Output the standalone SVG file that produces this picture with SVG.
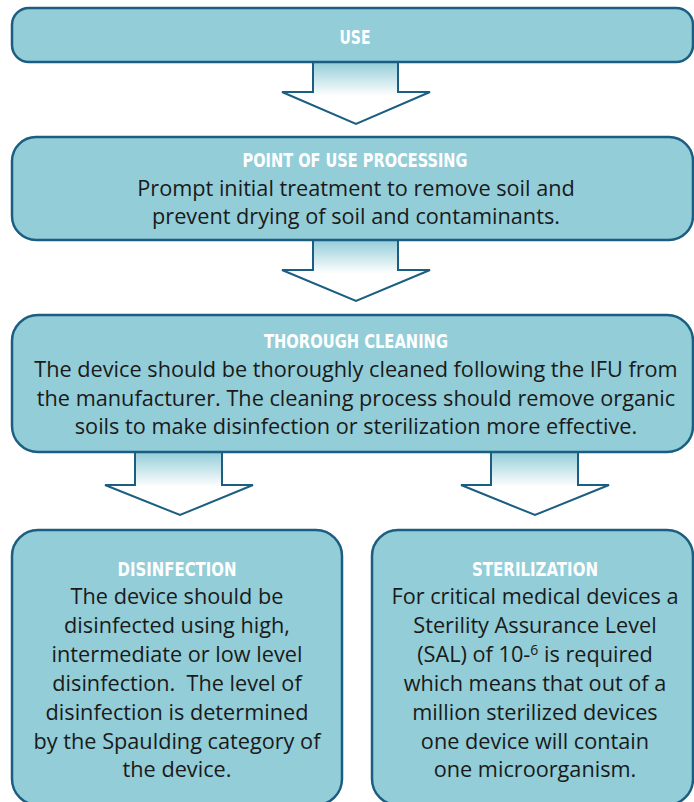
<svg xmlns="http://www.w3.org/2000/svg" width="694" height="802" viewBox="0 0 694 802">
<defs>
<linearGradient id="ag" x1="0" y1="0" x2="0" y2="1">
<stop offset="0" stop-color="#92cdd8"/>
<stop offset="0.55" stop-color="#ffffff"/>
<stop offset="1" stop-color="#ffffff"/>
</linearGradient>
<style>
.box{fill:#92cdd8;stroke:#1b5e82;stroke-width:2.5}
.arr{fill:url(#ag);stroke:#1b5e82;stroke-width:2;stroke-linejoin:miter}
.t{font-family:"DejaVu Sans Condensed","DejaVu Sans",sans-serif;font-weight:bold;font-size:19px;fill:#ffffff;text-anchor:middle}
.b{font-family:"Open Sans","Liberation Sans",sans-serif;font-size:21.7px;fill:#1a1a1a;text-anchor:middle;white-space:pre}
</style>
</defs>
<rect width="694" height="802" fill="#ffffff"/>
<g id="connectors">
<path class="arr" d="M313,62 V92 H282 L356,124 L430,92 H398 V62"/>
<path class="arr" d="M313,240 V270 H282 L356,301 L430,270 H398 V240"/>
<path class="arr" d="M135,452 V485 H105 L180,515 L253,485 H222 V452"/>
<path class="arr" d="M491,452 V485 H461 L535,515 L609,485 H578 V452"/>
</g>
<g id="use">
<rect class="box" x="12" y="8" width="681" height="54" rx="17"/>
<text class="t" x="355" y="44" textLength="31" lengthAdjust="spacingAndGlyphs">USE</text>
</g>
<g id="point-of-use">
<rect class="box" x="12" y="137" width="681" height="103" rx="24"/>
<text class="t" x="355" y="167" textLength="225" lengthAdjust="spacingAndGlyphs">POINT OF USE PROCESSING</text>
<text class="b" x="356" y="196">Prompt initial treatment to remove soil and</text>
<text class="b" x="356" y="224">prevent drying of soil and contaminants.</text>
</g>
<g id="cleaning">
<rect class="box" x="12" y="315" width="681" height="137" rx="26"/>
<text class="t" x="356" y="348" textLength="184" lengthAdjust="spacingAndGlyphs">THOROUGH CLEANING</text>
<text class="b" x="356" y="377">The device should be thoroughly cleaned following the IFU from</text>
<text class="b" x="356" y="406">the manufacturer. The cleaning process should remove organic</text>
<text class="b" x="356" y="434">soils to make disinfection or sterilization more effective.</text>
</g>
<g id="disinfection">
<rect class="box" x="12" y="530" width="330" height="275" rx="26"/>
<text class="t" x="177" y="576" textLength="119" lengthAdjust="spacingAndGlyphs">DISINFECTION</text>
<text class="b" x="177" y="604">The device should be</text>
<text class="b" x="177" y="633">disinfected using high,</text>
<text class="b" x="177" y="662">intermediate or low level</text>
<text class="b" x="177" y="691">disinfection.  The level of</text>
<text class="b" x="177" y="720">disinfection is determined</text>
<text class="b" x="177" y="749">by the Spaulding category of</text>
<text class="b" x="177" y="777">the device.</text>
</g>
<g id="sterilization">
<rect class="box" x="372" y="530" width="321" height="275" rx="26"/>
<text class="t" x="535" y="576" textLength="126" lengthAdjust="spacingAndGlyphs">STERILIZATION</text>
<text class="b" x="535" y="604">For critical medical devices a</text>
<text class="b" x="535" y="633">Sterility Assurance Level</text>
<text class="b" x="535" y="662">(SAL) of 10-<tspan font-size="14" dy="-7">6</tspan><tspan dy="7"> is required</tspan></text>
<text class="b" x="535" y="691">which means that out of a</text>
<text class="b" x="535" y="720">million sterilized devices</text>
<text class="b" x="535" y="749">one device will contain</text>
<text class="b" x="535" y="777">one microorganism.</text>
</g>
</svg>
